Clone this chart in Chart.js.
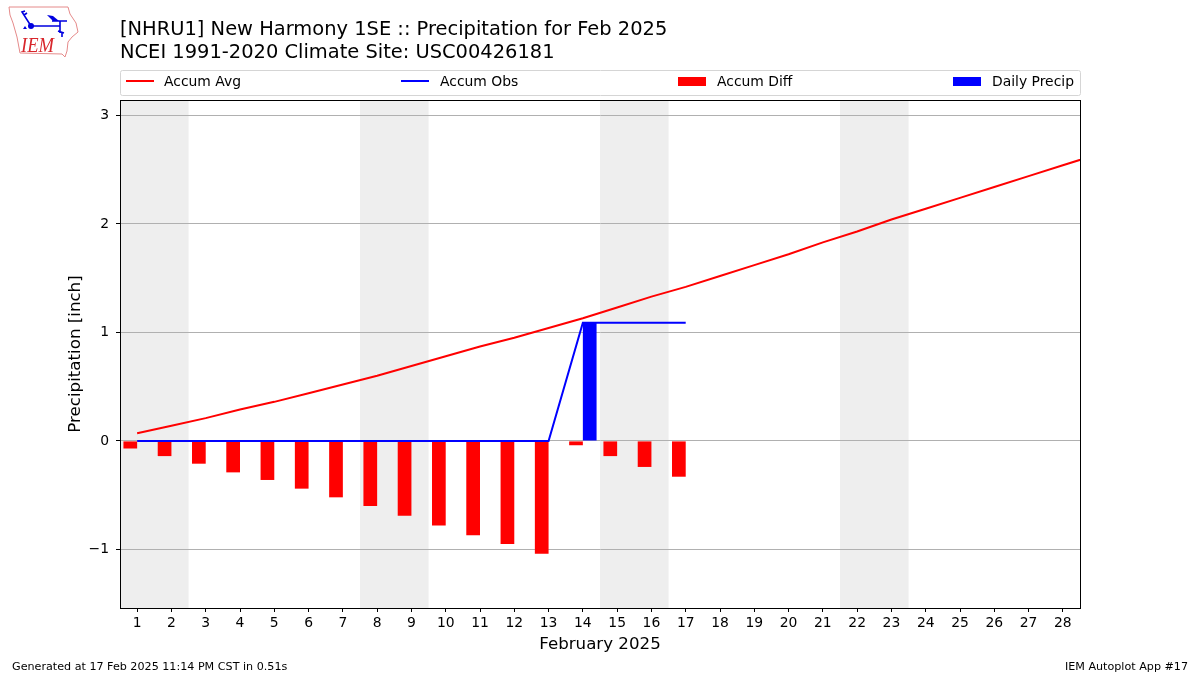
<!DOCTYPE html>
<html>
<head>
<meta charset="utf-8">
<title>New Harmony 1SE Precipitation</title>
<script src="https://cdn.jsdelivr.net/npm/chart.js@4"></script>
<style>
  html, body { margin: 0; padding: 0; background: #fff; }
  #wrap { position: relative; width: 1200px; height: 675px; overflow: hidden; }
  #chart { position: absolute; left: 0; top: 0; }
  #logo { position: absolute; left: 0; top: 0; }
</style>
</head>
<body>
<div id="wrap">
  <canvas id="chart" width="1200" height="675"></canvas>
  <svg id="logo" width="90" height="60" viewBox="0 0 90 60">
    <path d="M9 7 L68 7 L70 14 L76 23 L78 32 L72 37 L68 42 L67 51 L65 57 L62 54 L20 53 L17 37 L13 23 L10 15 Z" fill="none" stroke="#e58a8a" stroke-width="1"/>
    <path d="M31 26 L22 12 L25 11 M24 15 L27 13 M31 26 L60 26 M52 21 L67 21 M60 21 L60 33 M58 31 L64 33 M62 32 L62 37" fill="none" stroke="#0000e0" stroke-width="1.6"/>
    <path d="M47 15 L53 16 L59 21 L53 21 Z" fill="#0000e0"/>
    <circle cx="31" cy="26" r="3" fill="#0000e0"/>
    <path d="M25 26 L27 29 L23 29 Z" fill="#0000e0"/>
    <text x="21" y="52" font-family="Liberation Serif" font-style="italic" font-size="21" textLength="33" lengthAdjust="spacingAndGlyphs" fill="#d8262c">IEM</text>
  </svg>
</div>
<script>
const days = [1, 2, 3, 4, 5, 6, 7, 8, 9, 10, 11, 12, 13, 14, 15, 16, 17, 18, 19, 20, 21, 22, 23, 24, 25, 26, 27, 28];
// the red line keeps going past the last tick, so it has one extra point
const avgDays = days.concat([29]);
const accumAvg = [0.07, 0.14, 0.21, 0.29, 0.36, 0.44, 0.52, 0.60, 0.69, 0.78, 0.87, 0.95, 1.04, 1.13, 1.23, 1.33, 1.42, 1.52, 1.62, 1.72, 1.83, 1.93, 2.04, 2.14, 2.24, 2.34, 2.44, 2.54, 2.64];
const obsDays = [1, 2, 3, 4, 5, 6, 7, 8, 9, 10, 11, 12, 13, 14, 15, 16, 17];
const accumObs = [0, 0, 0, 0, 0, 0, 0, 0, 0, 0, 0, 0, 0, 1.09, 1.09, 1.09, 1.09];
const accumDiff = [-0.07, -0.14, -0.21, -0.29, -0.36, -0.44, -0.52, -0.60, -0.69, -0.78, -0.87, -0.95, -1.04, -0.04, -0.14, -0.24, -0.33];
const dailyPrecip = [0, 0, 0, 0, 0, 0, 0, 0, 0, 0, 0, 0, 0, 1.09, 0, 0, 0];
const yTicks = [-1, 0, 1, 2, 3];
const weekends = [[0.5, 2.5], [7.5, 9.5], [14.5, 16.5], [21.5, 23.5]];
const legendItems = [
    { label: "Accum Avg", color: "#ff0000", kind: "line", x: 126, textX: 164 },
    { label: "Accum Obs", color: "#0000ff", kind: "line", x: 401, textX: 440 },
    { label: "Accum Diff", color: "#ff0000", kind: "bar", x: 678, textX: 717 },
    { label: "Daily Precip", color: "#0000ff", kind: "bar", x: 953, textX: 992 }
];

const FONT = '"DejaVu Sans"';
const toPoints = (xs, ys) => xs.map((x, i) => ({ x: x, y: ys[i] }));

// weekend bands, frame, legend and the loose text are not things Chart.js lays out like this
const extras = {
    id: "extras",
    beforeDraw(chart) {
        const { ctx, chartArea: a, scales: { x } } = chart;
        ctx.save();
        ctx.fillStyle = "#eeeeee";
        weekends.forEach(([from, to]) => {
            const x0 = x.getPixelForValue(from);
            ctx.fillRect(x0, a.top, x.getPixelForValue(to) - x0, a.bottom - a.top);
        });
        ctx.restore();
    },
    afterDraw(chart) {
        const { ctx } = chart;
        ctx.save();
        ctx.strokeStyle = "#000";
        ctx.lineWidth = 1;
        ctx.strokeRect(120.5, 100.5, 960, 508);

        ctx.fillStyle = "#000";
        ctx.textBaseline = "alphabetic";
        ctx.textAlign = "left";
        ctx.font = "19.45px " + FONT;
        ctx.fillText("[NHRU1] New Harmony 1SE :: Precipitation for Feb 2025", 120, 35);
        ctx.fillText("NCEI 1991-2020 Climate Site: USC00426181", 120, 58);

        ctx.font = "11.15px " + FONT;
        ctx.fillText("Generated at 17 Feb 2025 11:14 PM CST in 0.51s", 12, 670);
        ctx.textAlign = "right";
        ctx.fillText("IEM Autoplot App #17", 1188, 670);

        // legend box
        ctx.beginPath();
        ctx.roundRect(120.5, 70.5, 960, 25, 2);
        ctx.strokeStyle = "#d5d5d5";
        ctx.stroke();
        ctx.textAlign = "left";
        ctx.font = "13.9px " + FONT;
        legendItems.forEach((item) => {
            ctx.fillStyle = item.color;
            ctx.strokeStyle = item.color;
            if (item.kind === "line") {
                ctx.lineWidth = 2;
                ctx.beginPath();
                ctx.moveTo(item.x, 81);
                ctx.lineTo(item.x + 28, 81);
                ctx.stroke();
            } else {
                ctx.fillRect(item.x, 77, 28, 9);
            }
            ctx.fillStyle = "#000";
            ctx.fillText(item.label, item.textX, 86);
        });
        ctx.restore();
    }
};

new Chart(document.getElementById("chart"), {
    type: "bar",
    data: {
        datasets: [
            { type: "line", label: "Accum Avg", data: toPoints(avgDays, accumAvg), borderColor: "#ff0000", borderWidth: 2, pointRadius: 0, tension: 0, order: 1 },
            { type: "line", label: "Accum Obs", data: toPoints(obsDays, accumObs), borderColor: "#0000ff", borderWidth: 2, pointRadius: 0, tension: 0, order: 0 },
            { label: "Accum Diff", data: toPoints(obsDays, accumDiff), backgroundColor: "#ff0000", categoryPercentage: 0.8, barPercentage: 1, order: 2 },
            { label: "Daily Precip", data: toPoints(obsDays, dailyPrecip), backgroundColor: "#0000ff", categoryPercentage: 0.8, barPercentage: 1, order: 3 }
        ]
    },
    options: {
        responsive: false,
        animation: false,
        devicePixelRatio: 1,
        layout: { padding: { top: 100, right: 120, bottom: 20, left: 66 } },
        plugins: { legend: { display: false }, title: { display: false }, tooltip: { enabled: false } },
        scales: {
            x: {
                type: "linear",
                offset: false,
                min: 0.5,
                max: 28.5,
                afterBuildTicks: (scale) => { scale.ticks = days.map((d) => ({ value: d })); },
                afterFit: (scale) => { scale.height = 47; },
                grid: { drawOnChartArea: false, tickLength: 4, tickColor: "#000", offset: false },
                border: { color: "#000" },
                ticks: { autoSkip: false, maxRotation: 0, color: "#000", font: { family: FONT, size: 13.9 }, padding: 3, callback: (v) => String(v) },
                title: { display: true, text: "February 2025", color: "#000", font: { family: FONT, size: 16.67 }, padding: { top: 2, bottom: 0 } }
            },
            y: {
                min: -1.54,
                max: 3.142,
                afterBuildTicks: (scale) => { scale.ticks = yTicks.map((v) => ({ value: v })); },
                afterFit: (scale) => { scale.width = 54; },
                grid: { color: "#b0b0b0", tickColor: "#000", tickLength: 4 },
                border: { color: "#000" },
                ticks: { color: "#000", font: { family: FONT, size: 13.9 }, padding: 7, callback: (v) => String(v).replace("-", "\u2212") },
                title: { display: true, text: "Precipitation [inch]", color: "#000", font: { family: FONT, size: 16.67 }, padding: 0 }
            }
        }
    },
    plugins: [extras]
});
</script>
</body>
</html>
